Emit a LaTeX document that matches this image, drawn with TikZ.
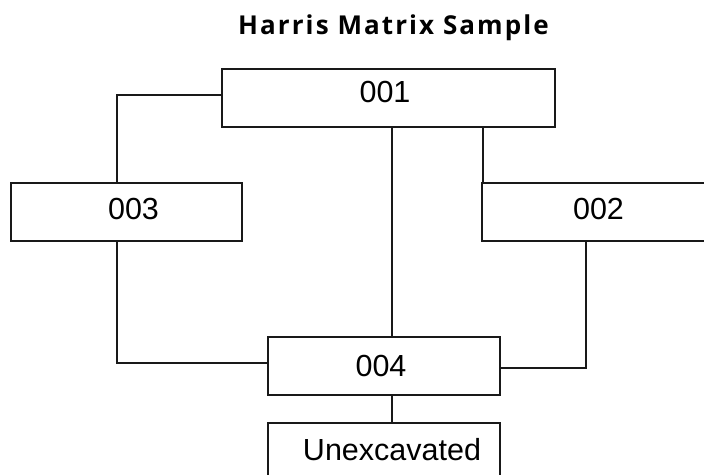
\documentclass[tikz,border=0pt]{standalone}
\usepackage{fontspec}
\setmainfont{Liberation Sans}
\newfontfamily\titlefont[LetterSpace=8]{Open Sans}
\begin{document}
\begin{tikzpicture}[x=1pt,y=-1pt,
  unitbox/.style={draw=black!90,line width=2pt,rectangle,minimum width=231pt,minimum height=58pt,
    inner sep=0pt,font=\fontsize{30.5}{32}\selectfont},
  link/.style={draw=black!90,line width=2pt}]
\useasboundingbox (0,0) rectangle (704,474);
\clip (0,0) rectangle (704,474);
\node[font=\titlefont\bfseries\fontsize{26}{28}\selectfont,anchor=base,inner sep=0pt] (title) at (393.5,34) {Harris Matrix Sample};
\node[unitbox,minimum width=333pt,text depth=12pt] (n001) at (388.5,98) {001\hspace*{7pt}};
\node[unitbox,text depth=6pt] (n003) at (126.5,212) {\hspace*{14pt}003};
\node[unitbox,minimum width=233pt,text depth=6pt] (n002) at (598.5,212) {002};
\node[unitbox,minimum width=232pt] (n004) at (384,366) {004\hspace*{6pt}};
\node[unitbox,minimum width=232pt,text depth=6pt] (n005) at (384,452) {\hspace*{16pt}Unexcavated};
\draw[link] ([yshift=3pt]n001.west) -| ([xshift=-9.5pt]n003.north);
\draw[link] ([xshift=8pt]n004.north) -- ([xshift=8pt]n004.north |- n001.south);
\draw[link] ([xshift=2pt]n002.north west) -- ([xshift=2pt]n002.north west |- n001.south);
\draw[link] ([xshift=-9.5pt]n003.south) |- ([yshift=3pt]n004.west);
\draw[link] ([xshift=-12.5pt]n002.south) |- ([yshift=-2pt]n004.east);
\draw[link] ([xshift=8pt]n004.south) -- ([xshift=8pt]n005.north);
\end{tikzpicture}
\end{document}
